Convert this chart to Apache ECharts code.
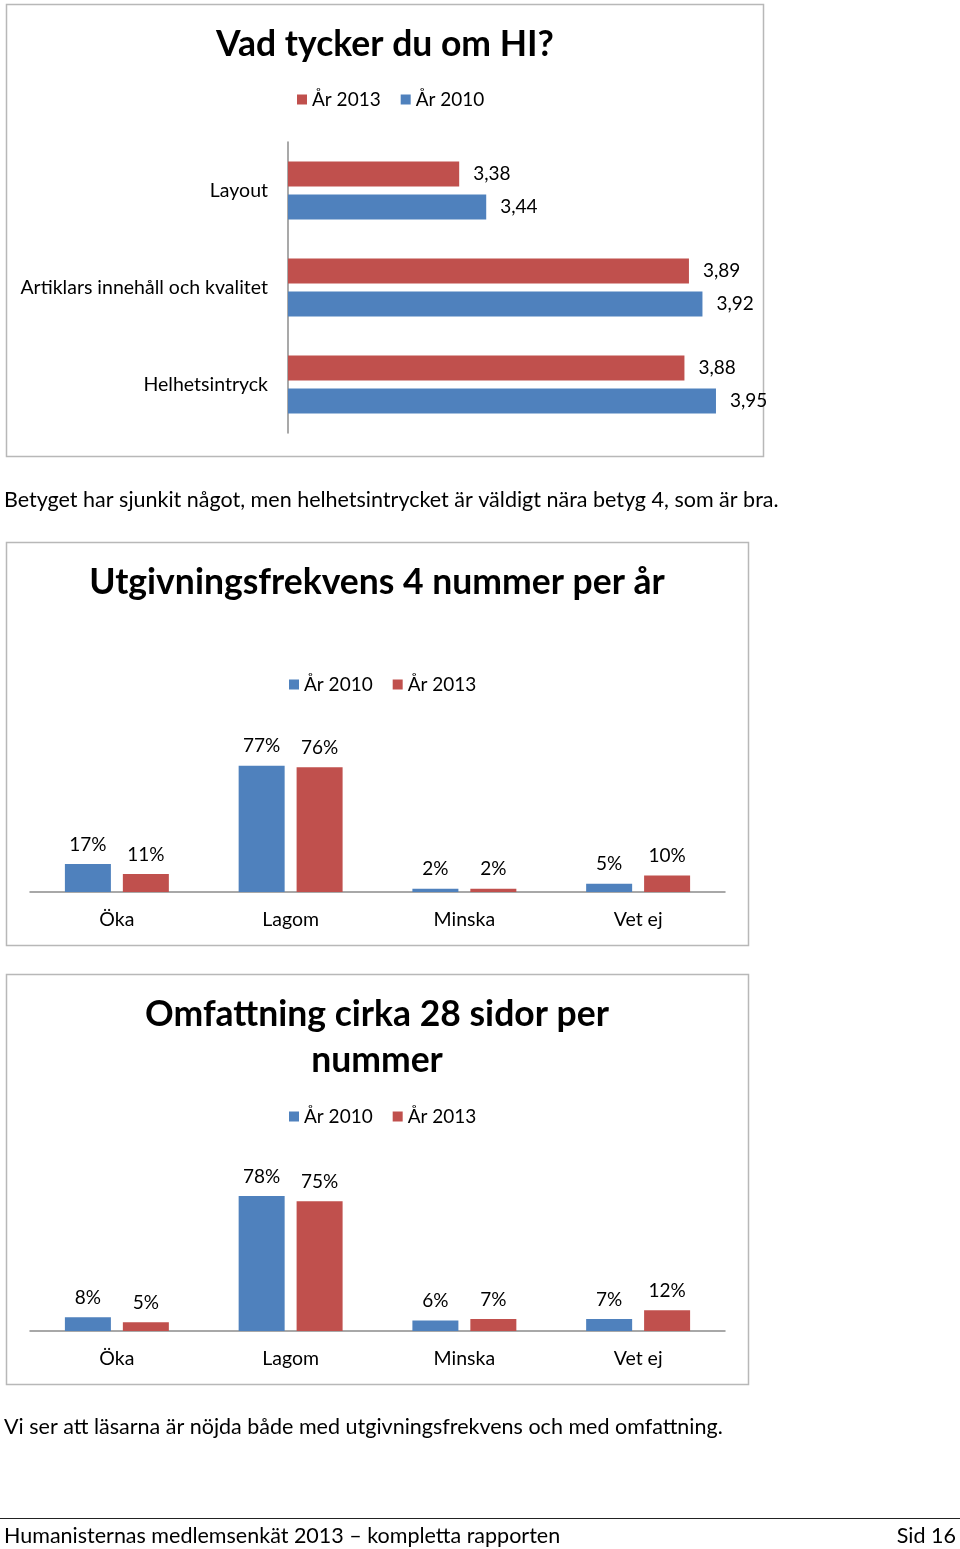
<!DOCTYPE html>
<html>
<head>
<meta charset="utf-8">
<script src="https://cdn.jsdelivr.net/npm/echarts@6/dist/echarts.min.js"></script>
<style>
html,body{margin:0;padding:0;background:#fff;}
#main{width:960px;height:1549px;}
</style>
</head>
<body>
<div id="main"></div>
<script>
// ---- data ----
const hiCategories = ['Layout', 'Artiklars innehåll och kvalitet', 'Helhetsintryck'];
const hi2013 = [3.38, 3.89, 3.88];
const hi2010 = [3.44, 3.92, 3.95];

const answerCategories = ['Öka', 'Lagom', 'Minska', 'Vet ej'];
const freq2010 = [17, 77, 2, 5];
const freq2013 = [11, 76, 2, 10];
const size2010 = [8, 78, 6, 7];
const size2013 = [5, 75, 7, 12];

const titles = ['Vad tycker du om HI?', 'Utgivningsfrekvens 4 nummer per år', 'Omfattning cirka 28 sidor per\nnummer'];
const texts = [
  'Betyget har sjunkit något, men helhetsintrycket är väldigt nära betyg 4, som är bra.',
  'Vi ser att läsarna är nöjda både med utgivningsfrekvens och med omfattning.'
];
const footerLeft = 'Humanisternas medlemsenkät 2013 – kompletta rapporten';
const footerRight = 'Sid 16';

// ---- styling ----
const FONT = 'Lato, "Open Sans", sans-serif';
const RED = '#C0504D';
const BLUE = '#4F81BD';
const AXIS = '#8c8c8c';
const BORDER = '#b8b8b8';

const chart = echarts.init(document.getElementById('main'), null, {renderer: 'canvas'});

const commaFmt = p => p.value.toFixed(2).replace('.', ',');
const pctFmt = p => p.value + '%';

const titleStyle = {fontFamily: FONT, fontWeight: 'bold', fontSize: 35.5, color: '#000', lineHeight: 46};
const legendText = {fontFamily: FONT, fontSize: 19, color: '#000'};
const catLabel = {fontFamily: FONT, fontSize: 19.5, color: '#000'};
const bodyText = {fontFamily: FONT, fontSize: 21.5, fill: '#000'};

function colSeries(name, data, color, idx) {
  return {
    type: 'bar', name: name, data: data, xAxisIndex: idx, yAxisIndex: idx,
    barWidth: 46, barGap: '26%', itemStyle: {color: color},
    label: {show: true, position: 'top', distance: 10, formatter: pctFmt, fontFamily: FONT, fontSize: 19, color: '#000'},
    emphasis: {disabled: true}
  };
}

const option = {
  animation: false,
  backgroundColor: '#fff',
  title: [
    {text: titles[0], left: 380, top: 17, textAlign: 'center', textStyle: titleStyle},
    {text: titles[1], left: 372, top: 555, textAlign: 'center', textStyle: titleStyle},
    {text: titles[2], left: 372, top: 987, textAlign: 'center', textStyle: titleStyle}
  ],
  legend: [
    {data: ['År 2013', 'År 2010'], left: 292, top: 85, itemWidth: 10, itemHeight: 10, itemGap: 20, textStyle: legendText, icon: 'rect', selectedMode: false},
    {data: ['År 2010', 'År 2013'], left: 284, top: 670, itemWidth: 10, itemHeight: 10, itemGap: 20, textStyle: legendText, icon: 'rect', selectedMode: false},
    {data: ['År 2010', 'År 2013'], left: 284, top: 1102, itemWidth: 10, itemHeight: 10, itemGap: 20, textStyle: legendText, icon: 'rect', selectedMode: false}
  ],
  grid: [
    {left: 288, top: 142, width: 450.5, height: 291},
    {left: 30, top: 728, width: 695, height: 164},
    {left: 30, top: 1158, width: 695, height: 173}
  ],
  xAxis: [
    {type: 'value', gridIndex: 0, min: 3, max: 4, show: false},
    {type: 'category', gridIndex: 1, data: answerCategories, axisLine: {lineStyle: {color: AXIS, width: 1.5}}, axisTick: {show: false}, axisLabel: {margin: 18, ...catLabel}},
    {type: 'category', gridIndex: 2, data: answerCategories, axisLine: {lineStyle: {color: AXIS, width: 1.5}}, axisTick: {show: false}, axisLabel: {margin: 18, ...catLabel}}
  ],
  yAxis: [
    {type: 'category', gridIndex: 0, data: hiCategories, inverse: true, axisLine: {lineStyle: {color: AXIS, width: 1.5}}, axisTick: {show: false}, axisLabel: {margin: 20, ...catLabel}},
    {type: 'value', gridIndex: 1, min: 0, max: 100, show: false},
    {type: 'value', gridIndex: 2, min: 0, max: 100, show: false}
  ],
  series: [
    {
      type: 'bar', name: 'År 2013', data: hi2013, xAxisIndex: 0, yAxisIndex: 0,
      barWidth: 25, barGap: '32%', itemStyle: {color: RED},
      label: {show: true, position: 'right', distance: 14, formatter: commaFmt, fontFamily: FONT, fontSize: 19, color: '#000'},
      emphasis: {disabled: true}
    },
    {
      type: 'bar', name: 'År 2010', data: hi2010, xAxisIndex: 0, yAxisIndex: 0,
      barWidth: 25, barGap: '32%', itemStyle: {color: BLUE},
      label: {show: true, position: 'right', distance: 14, formatter: commaFmt, fontFamily: FONT, fontSize: 19, color: '#000'},
      emphasis: {disabled: true}
    },
    colSeries('År 2010', freq2010, BLUE, 1),
    colSeries('År 2013', freq2013, RED, 1),
    colSeries('År 2010', size2010, BLUE, 2),
    colSeries('År 2013', size2013, RED, 2)
  ],
  graphic: [
    {type: 'rect', shape: {x: 6.5, y: 4.5, width: 757, height: 452}, style: {fill: 'none', stroke: BORDER, lineWidth: 1.5}, silent: true, z: -1},
    {type: 'rect', shape: {x: 6.5, y: 542.5, width: 742, height: 403}, style: {fill: 'none', stroke: BORDER, lineWidth: 1.5}, silent: true, z: -1},
    {type: 'rect', shape: {x: 6.5, y: 974.5, width: 742, height: 410}, style: {fill: 'none', stroke: BORDER, lineWidth: 1.5}, silent: true, z: -1},
    {type: 'text', left: 4, top: 489, style: {text: texts[0], ...bodyText}},
    {type: 'text', left: 4, top: 1416, style: {text: texts[1], ...bodyText}},
    {type: 'line', shape: {x1: 0, y1: 1518.5, x2: 960, y2: 1518.5}, style: {stroke: '#222', lineWidth: 1}},
    {type: 'text', left: 4, top: 1525, style: {text: footerLeft, ...bodyText}},
    {type: 'text', right: 4, top: 1525, style: {text: footerRight, ...bodyText}}
  ]
};

chart.setOption(option);
</script>
</body>
</html>
